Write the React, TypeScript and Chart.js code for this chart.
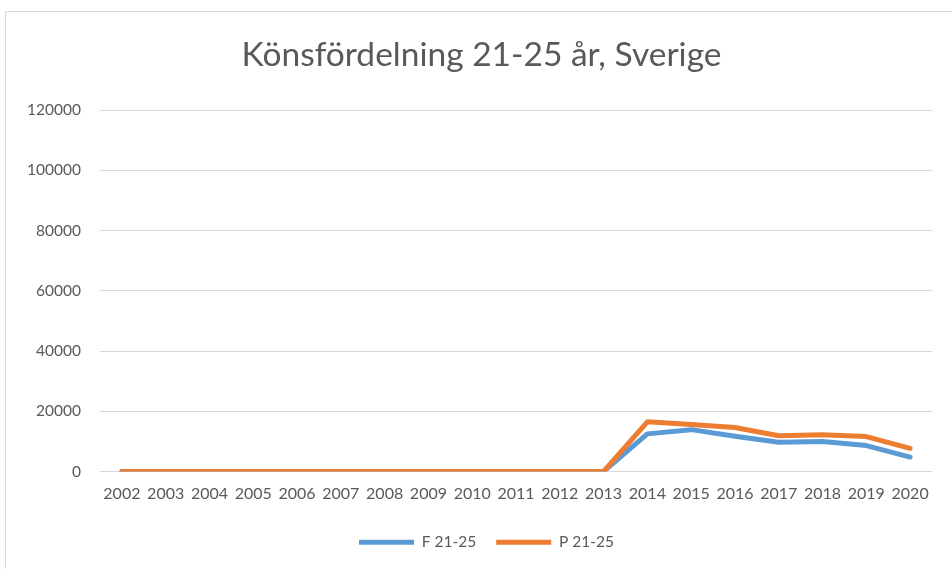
import React, { useEffect, useRef } from "react";
import { Chart, registerables } from "chart.js";

Chart.register(...registerables);

const years = ["2002","2003","2004","2005","2006","2007","2008","2009","2010","2011","2012","2013","2014","2015","2016","2017","2018","2019","2020"];
const seriesF = [0,0,0,0,0,0,0,0,0,0,0,0,12500,13900,11700,9700,10000,8600,4800];
const seriesP = [0,0,0,0,0,0,0,0,0,0,0,0,16500,15600,14600,11900,12200,11600,7700];
const yTicks = [0,20000,40000,60000,80000,100000,120000];

const FONT = "Lato, 'Open Sans', sans-serif";
const TEXT = "#595959";

const frame = {
  id: "frame",
  afterLayout(chart: any) {
    if (chart.titleBlock) chart.titleBlock.left = 31;
    if (chart.legend) chart.legend.left = 41;
  },
  beforeDraw(chart: any) {
    const ctx = chart.ctx;
    ctx.save();
    ctx.fillStyle = "#ffffff";
    ctx.fillRect(0, 0, chart.width, chart.height);
    ctx.strokeStyle = "#d9d9d9";
    ctx.lineWidth = 1;
    ctx.strokeRect(5.5, 11.5, chart.width + 20, chart.height + 20);
    ctx.restore();
  },
};

export default function App() {
  const ref = useRef<HTMLCanvasElement>(null);
  useEffect(() => {
    if (!ref.current) return;
    const chart = new Chart(ref.current, {
      type: "line",
      data: {
        labels: years,
        datasets: [
          { label: "F 21-25", data: seriesF, borderColor: "#5B9BD5", backgroundColor: "#5B9BD5", borderWidth: 5, borderCapStyle: "round", borderJoinStyle: "round", order: 2 },
          { label: "P 21-25", data: seriesP, borderColor: "#ED7D31", backgroundColor: "#ED7D31", borderWidth: 5, borderCapStyle: "round", borderJoinStyle: "round", order: 1 },
        ],
      },
      options: {
        responsive: false,
        animation: false,
        layout: { padding: { left: 0, right: 20, top: 0, bottom: 9 } },
        elements: {
          line: { borderWidth: 5, tension: 0, borderCapStyle: "round", borderJoinStyle: "round", fill: false },
          point: { radius: 0, hoverRadius: 0 },
        },
        plugins: {
          title: {
            display: true,
            text: "Könsfördelning 21-25 år, Sverige",
            color: TEXT,
            font: { family: FONT, size: 33.5, weight: "normal" },
            padding: { top: 35, bottom: 35 },
          },
          legend: {
            position: "bottom",
            labels: {
              usePointStyle: true,
              pointStyle: "line",
              pointStyleWidth: 55,
              color: TEXT,
              font: { family: FONT, size: 15.5 },
              padding: 20,
              sort: (a: any, b: any) => a.datasetIndex - b.datasetIndex,
            },
          },
          tooltip: { enabled: false },
        },
        scales: {
          x: {
            offset: true,
            grid: { display: false, drawTicks: false },
            border: { display: false },
            ticks: { color: TEXT, font: { family: FONT, size: 16 }, padding: 13, maxRotation: 0, autoSkip: false },
            afterFit: (s: any) => { s.height = 43; },
          },
          y: {
            min: 0,
            max: 120000,
            afterBuildTicks: (s: any) => { s.ticks = yTicks.map((v) => ({ value: v })); },
            grid: { color: "#d9d9d9", lineWidth: 1, drawTicks: false },
            border: { display: false },
            ticks: { color: TEXT, font: { family: FONT, size: 15.5 }, padding: 19, callback: (v: any) => String(v) },
            afterFit: (s: any) => { s.width = 100; },
          },
        },
      },
      plugins: [frame],
    });
    return () => chart.destroy();
  }, []);
  return (
    <div style={{ position: "absolute", left: 0, top: 0, width: 952, height: 569 }}>
      <canvas ref={ref} width={952} height={569} />
    </div>
  );
}
